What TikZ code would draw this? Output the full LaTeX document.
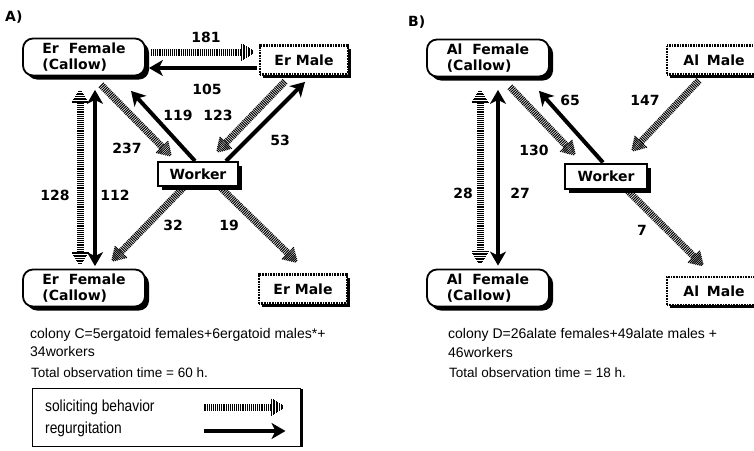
\documentclass[tikz,border=0pt]{standalone}
\usepackage{fontspec}
\setmainfont{Liberation Sans}
\newfontfamily\nf{DejaVu Sans}
\newfontfamily\legfont[FakeStretch=0.86]{Liberation Sans}
\usetikzlibrary{calc,arrows.meta,shadows}

\tikzset{
  nodefont/.style={font=\nf\bfseries\fontsize{14}{16}\selectfont},
  blackshadow/.style={drop shadow={fill=black, opacity=1, shadow xshift=#1, shadow yshift=-#1}},
  female/.style={draw, line width=1.8pt, rounded corners=10pt, fill=white,
    minimum width=122pt, minimum height=37pt, align=left, inner sep=0pt,
    nodefont, blackshadow=4pt},
  male/.style={draw, line width=2.8pt, dash pattern=on 0.8pt off 0.8pt, fill=white,
    minimum width=88pt, minimum height=29pt, inner sep=0pt, nodefont, blackshadow=3pt},
  worker/.style={draw, line width=2pt, fill=white, minimum width=80pt,
    minimum height=24pt, inner sep=0pt, nodefont, blackshadow=4pt},
  regarrow/.style={line width=4pt, -{Stealth[length=14pt,width=16pt,inset=4pt]}},
  regdouble/.style={line width=4pt, {Stealth[length=14pt,width=16pt,inset=4pt]}-{Stealth[length=14pt,width=16pt,inset=4pt]}},
  hshaft/.style={line width=7pt, dash pattern=on 1pt off 0.9pt},
  num/.style={nodefont, inner sep=0pt},
  captext/.style={font=\fontsize{14}{16}\selectfont, anchor=west, inner sep=0pt},
  legtext/.style={font=\legfont\fontsize{16}{18}\selectfont, anchor=west, inner sep=0pt},
}

\newcommand\hhead[2]{% #1 point behind, #2 tip
  \foreach \d in {0,1.6,...,12.8}{%
    \pgfmathsetmacro\hw{8.5*(1-\d/14)}%
    \pgfmathsetmacro\dd{14-\d}%
    \coordinate (hp) at ($(#2)!\dd pt!(#1)$);
    \draw[line width=1pt] ($(hp)!\hw pt!90:(#2)$) -- ($(hp)!\hw pt!-90:(#2)$);
  }}
\newcommand\hatcharrow[2]{%
  \coordinate (hb) at ($(#2)!14pt!(#1)$);
  \draw[hshaft] (#1) -- (hb);
  \hhead{#1}{#2}}
\newcommand\hatchdouble[2]{%
  \coordinate (hb1) at ($(#1)!14pt!(#2)$);
  \coordinate (hb2) at ($(#2)!14pt!(#1)$);
  \draw[hshaft] (hb1) -- (hb2);
  \hhead{#2}{#1}\hhead{#1}{#2}}

\begin{document}
\begin{tikzpicture}[x=1pt,y=-1pt]
\useasboundingbox[fill=white] (0,0) rectangle (754,450);

% ---------------- Panel A ----------------
\node[nodefont, anchor=west, inner sep=0pt] (labA) at (5,17) {A)};
\node[female] (fT) at (84,57) {Er\hspace{5pt} Female\\(Callow)};
\node[male] (mT) at (304,60) {Er Male};
\node[worker] (wA) at (198,174) {Worker};
\node[female] (fB) at (84,288) {Er\hspace{5pt} Female\\(Callow)};
\node[male] (mB) at (303,289) {Er Male};

\coordinate (a1s) at ($(fT.east)+(5,-5)$);
\coordinate (a1e) at ($(mT.west)+(-3,-8)$);
\coordinate (a2s) at ($(mT.west)+(-2,8)$);
\coordinate (a2e) at ($(fT.east)+(3,11)$);
\coordinate (a3s) at ($(fT.south)+(17,8.5)$);
\coordinate (a3e) at ($(wA.north)+(-26,-4)$);
\coordinate (a4s) at ($(wA.north)+(-3,0)$);
\coordinate (a4e) at ($(fT.south)+(47,14.5)$);
\coordinate (a5s) at ($(mT.south)+(-19,5.5)$);
\coordinate (a5e) at ($(wA.north)+(18,-8)$);
\coordinate (a6s) at ($(wA.north)+(28,0)$);
\coordinate (a6e) at ($(mT.south)+(1,6)$);
\coordinate (a7t) at ($(fT.south)+(-4,12.5)$);
\coordinate (a7b) at ($(fB.north)+(-4,-2.5)$);
\coordinate (a8t) at ($(fT.south)+(11,13.5)$);
\coordinate (a8b) at ($(fB.north)+(11,-2.5)$);
\coordinate (a9s) at ($(wA.south)+(-15,1)$);
\coordinate (a9e) at ($(fB.north)+(27,-6.5)$);
\coordinate (a10s) at ($(wA.south)+(23,1)$);
\coordinate (a10e) at ($(mB.north)+(-5,-10)$);

\hatcharrow{a1s}{a1e}
\draw[regarrow] (a2s) -- (a2e);
\hatcharrow{a3s}{a3e}
\draw[regarrow] (a4s) -- (a4e);
\hatcharrow{a5s}{a5e}
\draw[regarrow] (a6s) -- (a6e);
\hatchdouble{a7t}{a7b}
\draw[regdouble] (a8t) -- (a8b);
\hatcharrow{a9s}{a9e}
\hatcharrow{a10s}{a10e}

\node[num] (n181) at (206,37) {181};
\node[num] (n105) at (207,89) {105};
\node[num] (n237) at (127,148) {237};
\node[num] (n119) at (178,115) {119};
\node[num] (n123) at (218,115) {123};
\node[num] (n53) at (280,140) {53};
\node[num] (n128) at (55,195) {128};
\node[num] (n112) at (115,195) {112};
\node[num] (n32) at (173,225) {32};
\node[num] (n19) at (229,225) {19};

\node[captext] (cA1) at (30,335) {colony C=5ergatoid females+6ergatoid males*+};
\node[captext] (cA2) at (30,351) {34workers};
\node[captext, font=\fontsize{13.5}{16}\selectfont] (cA3) at (31,373) {Total observation time = 60 h.};

\node[draw, line width=1pt, fill=white, minimum width=268pt, minimum height=58pt,
      drop shadow={fill=black, opacity=1, shadow xshift=3pt, shadow yshift=-1pt}] (leg) at (166,417) {};
\node[legtext] (lg1) at (45,407) {soliciting behavior};
\node[legtext] (lg2) at (45,429) {regurgitation};
\coordinate (l1s) at ($(leg.east)+(-97,-10)$);
\coordinate (l1e) at ($(leg.east)+(-15,-10)$);
\coordinate (l2s) at ($(leg.east)+(-97,14)$);
\coordinate (l2e) at ($(leg.east)+(-15,14)$);
\hatcharrow{l1s}{l1e}
\draw[regarrow] (l2s) -- (l2e);

% ---------------- Panel B ----------------
\node[nodefont, anchor=west, inner sep=0pt] (labB) at (408,22) {B)};
\node[female] (gT) at (488,58) {Al\hspace{5pt} Female\\(Callow)};
\node[male, minimum width=94pt] (nT) at (714,60) {Al\hspace{3pt} Male};
\node[worker, minimum width=82pt, minimum height=25pt] (wB) at (606,176) {Worker};
\node[female] (gB) at (488,288) {Al\hspace{5pt} Female\\(Callow)};
\node[male, minimum width=94pt, minimum height=28pt] (nB) at (714,291) {Al\hspace{3pt} Male};

\coordinate (b1t) at ($(gT.south)+(-8,11.5)$);
\coordinate (b1b) at ($(gB.north)+(-8,-3)$);
\coordinate (b2t) at ($(gT.south)+(10,12.5)$);
\coordinate (b2b) at ($(gB.north)+(10,-3)$);
\coordinate (b3s) at ($(gT.south)+(22,9.5)$);
\coordinate (b3e) at ($(wB.north)+(-30,-6.5)$);
\coordinate (b4s) at ($(wB.north)+(-3,0)$);
\coordinate (b4e) at ($(gT.south)+(51,13.5)$);
\coordinate (b5s) at ($(nT.south)+(-15,4.5)$);
\coordinate (b5e) at ($(wB.north)+(25,-10.5)$);
\coordinate (b6s) at ($(wB.south)+(22,1.5)$);
\coordinate (b6e) at ($(nB.north)+(-10,-9)$);

\hatchdouble{b1t}{b1b}
\draw[regdouble] (b2t) -- (b2b);
\hatcharrow{b3s}{b3e}
\draw[regarrow] (b4s) -- (b4e);
\hatcharrow{b5s}{b5e}
\hatcharrow{b6s}{b6e}

\node[num] (n28) at (463,193) {28};
\node[num] (n27) at (520,193) {27};
\node[num] (n130) at (534,150) {130};
\node[num] (n65) at (570,100) {65};
\node[num] (n147) at (645,100) {147};
\node[num] (n7) at (642,230) {7};

\node[captext] (cB1) at (448,335) {colony D=26alate females+49alate males +};
\node[captext] (cB2) at (448,352) {46workers};
\node[captext, font=\fontsize{13.5}{16}\selectfont] (cB3) at (449,373) {Total observation time = 18 h.};
\end{tikzpicture}
\end{document}
